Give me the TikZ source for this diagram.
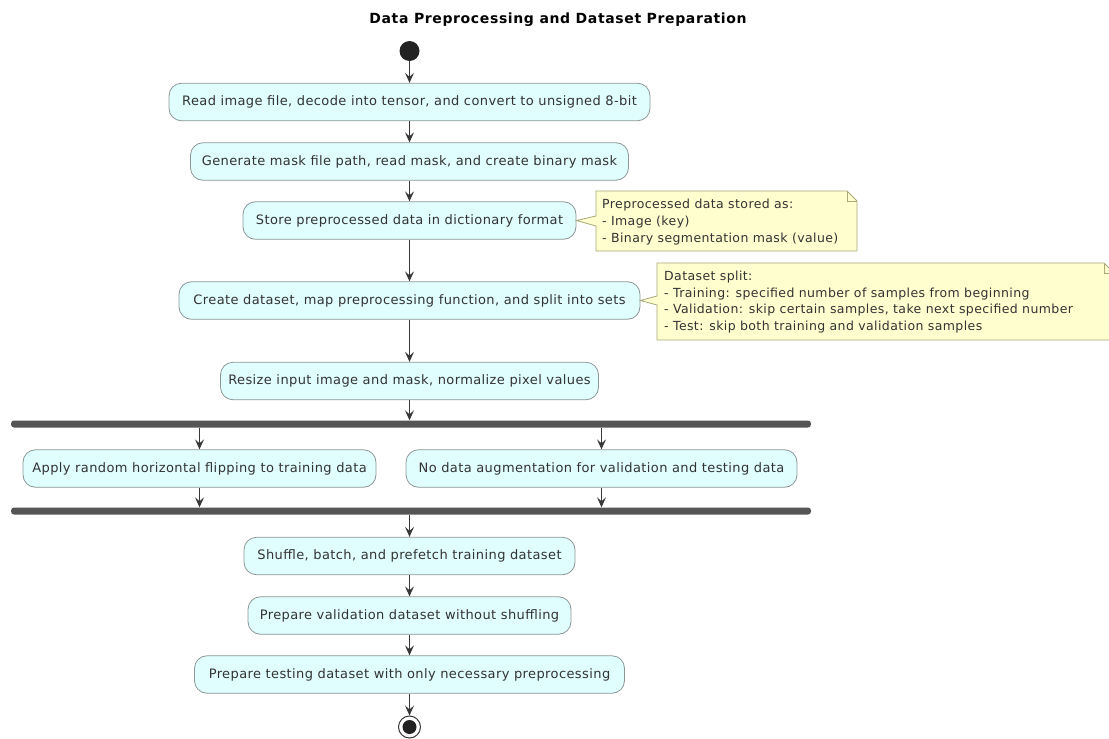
\documentclass[tikz,border=0pt]{standalone}
\usepackage{fontspec}
\setmainfont{DejaVu Sans}
\usetikzlibrary{arrows.meta}
\definecolor{actfill}{RGB}{224,254,254}
\definecolor{actdraw}{RGB}{140,150,150}
\definecolor{txt}{RGB}{51,51,51}
\definecolor{arr}{RGB}{56,56,56}
\definecolor{notefill}{RGB}{254,254,206}
\definecolor{notedraw}{RGB}{168,168,120}
\definecolor{barc}{RGB}{85,85,85}
\definecolor{startc}{RGB}{34,34,34}
\begin{document}
\begin{tikzpicture}[x=1pt,y=-1pt,
 act/.style={draw=actdraw, fill=actfill, rounded corners=12.5pt, line width=0.8pt, text=txt, font=\fontsize{13}{15}\selectfont\addfontfeature{LetterSpace=3.1}, inner sep=0pt, minimum height=37.5pt},
 flow/.style={draw=arr, line width=1pt, -{Stealth[length=10pt,width=9pt,inset=4pt]}},
 bar/.style={fill=barc, rounded corners=3pt, inner sep=0pt, minimum height=7pt},
 note/.style={draw=notedraw, fill=notefill, line width=0.8pt, line join=miter},
 notetext/.style={text=txt, align=left, inner sep=0pt, font=\fontsize{12.5}{16.7}\selectfont\addfontfeature{LetterSpace=3.2}, anchor=west},
 ]
\useasboundingbox (0,0) rectangle (1109,739);

\node[font=\bfseries\fontsize{14}{17}\selectfont\addfontfeature{LetterSpace=4.5}, text=black, inner sep=0pt] (title) at (558,20) {Data Preprocessing and Dataset Preparation};

\node[circle, fill=startc, minimum size=20pt, inner sep=0pt] (start) at (409.5,51) {};

\node[act, minimum width=481pt] (n1) at (409.5,102) {Read image file, decode into tensor, and convert to unsigned 8-bit};
\node[act, minimum width=438pt] (n2) at (409.5,161.5) {Generate mask file path, read mask, and create binary mask};
\node[act, minimum width=333pt] (n3) at (409.5,220.5) {Store preprocessed data in dictionary format};
\node[act, minimum width=461pt] (n4) at (409.5,300.5) {Create dataset, map preprocessing function, and split into sets};
\node[act, minimum width=378pt] (n5) at (409.5,381) {Resize input image and mask, normalize pixel values};

\node[bar, minimum width=800pt] (fork) at (411,424) {};
\node[act, minimum width=353pt] (n6) at (199.5,468.5) {Apply random horizontal flipping to training data};
\node[act, minimum width=391pt] (n7) at (601.5,468.5) {No data augmentation for validation and testing data};
\node[bar, minimum width=800pt] (join) at (411,511) {};

\node[act, minimum width=331pt] (n8) at (409.5,556) {Shuffle, batch, and prefetch training dataset};
\node[act, minimum width=323pt] (n9) at (409.5,615.5) {Prepare validation dataset without shuffling};
\node[act, minimum width=430pt] (n10) at (409.5,674.5) {Prepare testing dataset with only necessary preprocessing};

\node[circle, draw=arr, line width=1pt, fill=white, minimum size=22pt, inner sep=0pt] (end) at (409.5,727) {};
\fill[startc] (end.center) circle (7pt);

\draw[flow] (start) -- (n1);
\draw[flow] (n1) -- (n2);
\draw[flow] (n2) -- (n3);
\draw[flow] (n3) -- (n4);
\draw[flow] (n4) -- (n5);
\draw[flow] (n5.south) -- (n5.south |- fork.north);
\draw[flow] (fork.south -| n6) -- (n6.north);
\draw[flow] (fork.south -| n7) -- (n7.north);
\draw[flow] (n6.south) -- (n6.south |- join.north);
\draw[flow] (n7.south) -- (n7.south |- join.north);
\draw[flow] (join.south -| n8) -- (n8.north);
\draw[flow] (n8) -- (n9);
\draw[flow] (n9) -- (n10);
\draw[flow] (n10) -- (end);

% note 1
\draw[note] (596,191) -- (847,191) -- (857,201) -- (857,251) -- (596,251) -- (596,226) -- (n3.east) -- (596,216) -- cycle;
\draw[note, fill=none] (847,191) -- (847,201) -- (857,201);
\node[notetext] (note1) at (602,222) {Preprocessed data stored as:\\- Image (key)\\- Binary segmentation mask (value)};

% note 2
\draw[note] (657,263) -- (1104,263) -- (1114,273) -- (1114,340) -- (657,340) -- (657,305) -- (n4.east) -- (657,296) -- cycle;
\draw[note, fill=none] (1104,263) -- (1104,273) -- (1114,273);
\node[notetext] (note2) at (664,302) {Dataset split:\\- Training: specified number of samples from beginning\\- Validation: skip certain samples, take next specified number\\- Test: skip both training and validation samples};
\end{tikzpicture}
\end{document}
